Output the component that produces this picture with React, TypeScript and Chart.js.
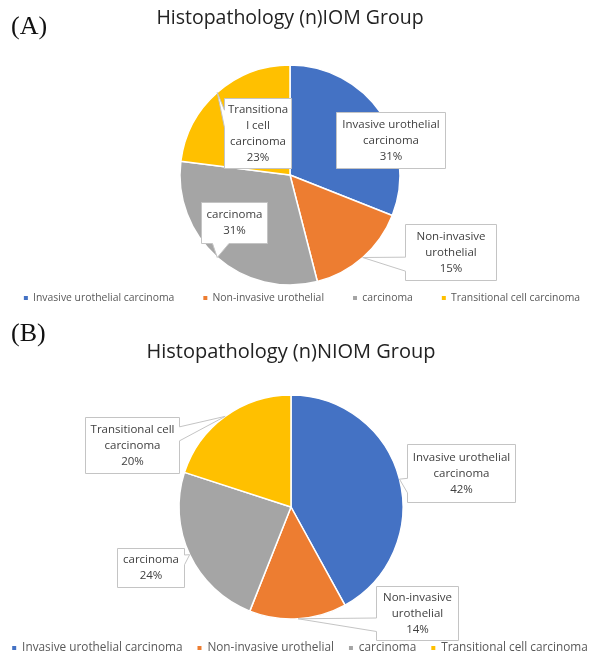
import React, { useEffect, useRef } from "react";
import { Chart, registerables } from "chart.js";

Chart.register(...registerables);

// ---------- data ----------
const CATEGORIES = [
  "Invasive urothelial carcinoma",
  "Non-invasive urothelial",
  "carcinoma",
  "Transitional cell carcinoma",
];
const IOM_VALUES = [31, 15, 31, 23];
const NIOM_VALUES = [42, 14, 24, 20];
const TITLE_A = "Histopathology (n)IOM Group";
const TITLE_B = "Histopathology (n)NIOM Group";
const CALLOUT_LINES_A = [
  ["Invasive urothelial", "carcinoma"],
  ["Non-invasive", "urothelial"],
  ["carcinoma"],
  ["Transitiona", "l cell", "carcinoma"],
];
const CALLOUT_LINES_B = [
  ["Invasive urothelial", "carcinoma"],
  ["Non-invasive", "urothelial"],
  ["carcinoma"],
  ["Transitional cell", "carcinoma"],
];

// ---------- styles ----------
const COLORS = ["#4472C4", "#ED7D31", "#A5A5A5", "#FFC000"];
const FONT = "'Open Sans', 'Noto Sans', sans-serif";

// callout boxes: offsets relative to pie centre (px)
const BOXES_A = [
  { dx: 46, dy: -63, w: 109, h: 56 },
  { dx: 115, dy: 49, w: 91, h: 56 },
  { dx: -89, dy: 27, w: 66, h: 41 },
  { dx: -66, dy: -77, w: 67, h: 70 },
];
const BOXES_B = [
  { dx: 116, dy: -63, w: 108, h: 58 },
  { dx: 85, dy: 79, w: 82, h: 54 },
  { dx: -174, dy: 41, w: 67, h: 39 },
  { dx: -206, dy: -90, w: 94, h: 56 },
];

const calloutPlugin = {
  id: "callouts",
  afterLayout(chart: any, _args: any, opts: any) {
    const s = opts.legendShift || 0;
    if (s && chart.legend) {
      chart.legend.left += s;
      chart.legend.right += s;
    }
  },
  afterDatasetsDraw(chart: any, _args: any, opts: any) {
    const { ctx } = chart;
    const meta = chart.getDatasetMeta(0);
    const data = chart.data.datasets[0].data as number[];
    const total = data.reduce((a, b) => a + b, 0);
    ctx.save();
    meta.data.forEach((arc: any, i: number) => {
      const p = arc.getProps(["x", "y", "startAngle", "endAngle", "outerRadius"], true);
      const mid = (p.startAngle + p.endAngle) / 2;
      const tr = p.outerRadius * (opts.tipRatio ?? 1);
      const tx = p.x + Math.cos(mid) * tr;
      const ty = p.y + Math.sin(mid) * tr;
      const b = opts.boxes[i];
      const L = Math.round(p.x + b.dx) + 0.5;
      const T = Math.round(p.y + b.dy) + 0.5;
      const W = b.w;
      const H = b.h;
      const cx = L + W / 2;
      const cy = T + H / 2;
      const inside = tx >= L && tx <= L + W && ty >= T && ty <= T + H;
      ctx.beginPath();
      if (inside) {
        ctx.rect(L, T, W, H);
      } else {
        const dx = tx - cx;
        const dy = ty - cy;
        const horiz = Math.abs(dx) * H > Math.abs(dy) * W;
        const y1 = T + (H * (dy > 0 ? 7 : 2)) / 12;
        const y2 = T + (H * (dy > 0 ? 10 : 5)) / 12;
        const x1 = L + (W * (dx > 0 ? 7 : 2)) / 12;
        const x2 = L + (W * (dx > 0 ? 10 : 5)) / 12;
        ctx.moveTo(L, T);
        if (!horiz && dy < 0) {
          ctx.lineTo(x1, T);
          ctx.lineTo(tx, ty);
          ctx.lineTo(x2, T);
        }
        ctx.lineTo(L + W, T);
        if (horiz && dx > 0) {
          ctx.lineTo(L + W, y1);
          ctx.lineTo(tx, ty);
          ctx.lineTo(L + W, y2);
        }
        ctx.lineTo(L + W, T + H);
        if (!horiz && dy > 0) {
          ctx.lineTo(x2, T + H);
          ctx.lineTo(tx, ty);
          ctx.lineTo(x1, T + H);
        }
        ctx.lineTo(L, T + H);
        if (horiz && dx < 0) {
          ctx.lineTo(L, y2);
          ctx.lineTo(tx, ty);
          ctx.lineTo(L, y1);
        }
        ctx.closePath();
      }
      ctx.fillStyle = "#ffffff";
      ctx.fill();
      ctx.lineWidth = 1;
      ctx.strokeStyle = "#c4c4c4";
      ctx.stroke();

      const lines = [...opts.lines[i], Math.round((data[i] / total) * 100) + "%"];
      ctx.fillStyle = "#404040";
      ctx.font = `${opts.fontSize}px ${FONT}`;
      ctx.textAlign = "center";
      ctx.textBaseline = "middle";
      const lh = opts.lineHeight;
      const y0 = cy - ((lines.length - 1) * lh) / 2;
      lines.forEach((t: string, k: number) => ctx.fillText(t, cx, y0 + k * lh));
    });
    ctx.restore();
  },
};

function makeLegendLabels(chart: any) {
  const base = (Chart as any).overrides.doughnut.plugins.legend.labels.generateLabels(chart);
  return base.map((l: any) => ({ ...l, lineWidth: 0 }));
}

type PieProps = {
  width: number;
  height: number;
  top: number;
  left: number;
  title: string;
  values: number[];
  titleSize: number;
  titlePad: { top: number; bottom: number };
  legendSize: number;
  legendPad: number;
  legendShift: number;
  layoutPad: { top: number; right: number; bottom: number; left: number };
  radius: number;
  boxes: any[];
  lines: string[][];
};

function PieChart(props: PieProps) {
  const ref = useRef<HTMLCanvasElement | null>(null);
  useEffect(() => {
    if (!ref.current) return;
    const chart = new Chart(ref.current, {
      type: "pie",
      data: {
        labels: CATEGORIES,
        datasets: [
          {
            data: props.values,
            backgroundColor: COLORS,
            borderColor: "#ffffff",
            borderWidth: 1.5,
            radius: props.radius,
            clip: false,
          } as any,
        ],
      },
      options: {
        responsive: false,
        animation: false,
        devicePixelRatio: 1,
        layout: { padding: props.layoutPad },
        plugins: {
          title: {
            display: true,
            text: props.title,
            color: "#222222",
            font: { size: props.titleSize, weight: "normal", family: FONT },
            padding: props.titlePad,
          },
          legend: {
            position: "bottom",
            labels: {
              usePointStyle: true,
              pointStyle: "rect",
              boxWidth: 4,
              boxHeight: 4,
              padding: props.legendPad,
              color: "#595959",
              font: { size: props.legendSize, family: FONT },
              generateLabels: makeLegendLabels,
            },
          },
          tooltip: { enabled: false },
          callouts: {
            boxes: props.boxes,
            lines: props.lines,
            fontSize: 11.5,
            lineHeight: 16,
            tipRatio: 1,
            legendShift: props.legendShift,
          },
        } as any,
      },
      plugins: [calloutPlugin],
    });
    return () => chart.destroy();
  }, []);
  return (
    <canvas
      ref={ref}
      width={props.width}
      height={props.height}
      style={{ position: "absolute", left: props.left, top: props.top, width: props.width, height: props.height }}
    />
  );
}

const panelLabel: React.CSSProperties = {
  position: "absolute",
  left: 11,
  fontFamily: "'Liberation Serif', 'Times New Roman', serif",
  fontSize: 26,
  lineHeight: "30px",
  color: "#111",
};

export default function App() {
  return (
    <div style={{ position: "absolute", left: 0, top: 0, width: 611, height: 664, background: "#fff", overflow: "hidden" }}>
      <PieChart
        width={700}
        height={320}
        top={0}
        left={-60}
        title={TITLE_A}
        values={IOM_VALUES}
        titleSize={19.5}
        titlePad={{ top: 6.3, bottom: 56.5 }}
        legendSize={10.4}
        legendPad={29}
        legendShift={12}
        layoutPad={{ top: 0, right: 0, bottom: 6.8, left: 0 }}
        radius={110}
        boxes={BOXES_A}
        lines={CALLOUT_LINES_A}
      />
      <PieChart
        width={680}
        height={344}
        top={320}
        left={-49.5}
        title={TITLE_B}
        values={NIOM_VALUES}
        titleSize={20}
        titlePad={{ top: 20, bottom: 22.8 }}
        legendSize={11.8}
        legendPad={15}
        legendShift={9}
        layoutPad={{ top: 0, right: 0, bottom: 0, left: 0 }}
        radius={112}
        boxes={BOXES_B}
        lines={CALLOUT_LINES_B}
      />
      <div style={{ ...panelLabel, top: 11 }}>(A)</div>
      <div style={{ ...panelLabel, top: 318 }}>(B)</div>
    </div>
  );
}
